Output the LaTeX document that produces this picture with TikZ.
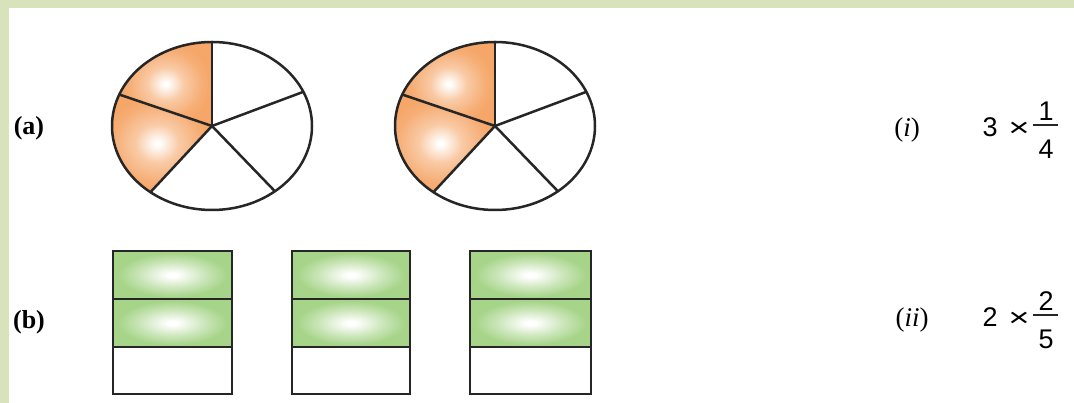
\documentclass[tikz,border=0pt]{standalone}
\usepackage{fontspec}
\usepackage{graphicx}
\setmainfont{Liberation Serif}
\setsansfont{Liberation Sans}
\definecolor{bandgreen}{RGB}{216,226,187}
\definecolor{pieorange}{RGB}{245,166,104}
\definecolor{cellgreen}{RGB}{166,212,136}
\definecolor{inkline}{RGB}{38,38,38}
\pgfdeclareradialshading{orangeglow}{\pgfpoint{0bp}{0bp}}{color(0bp)=(white); color(1bp)=(white); color(10bp)=(pieorange!60!white); color(20bp)=(pieorange!92!white); color(25bp)=(pieorange); color(50bp)=(pieorange)}
\pgfdeclareradialshading{greenglow}{\pgfpoint{0bp}{0bp}}{color(0bp)=(white); color(2bp)=(white); color(14bp)=(cellgreen!60!white); color(23bp)=(cellgreen); color(50bp)=(cellgreen)}
\begin{document}
\begin{tikzpicture}[x=1pt,y=1pt,
  pieline/.style={draw=inkline,line width=2.5pt},
  cellline/.style={draw=inkline,line width=1.8pt},
  partlab/.style={font=\fontsize{26}{28}\selectfont\bfseries,inner sep=0pt},
  optlab/.style={font=\fontsize{27}{29}\selectfont,inner sep=0pt},
  digit/.style={font=\sffamily\fontsize{27}{29}\selectfont,inner sep=0pt,anchor=base},
  timessign/.style={font=\sffamily\fontsize{27}{29}\selectfont,inner sep=0pt},
  fracbar/.style={draw=inkline,line width=1.4pt}]
\useasboundingbox (0,0) rectangle (1074,403);
\fill[white] (0,0) rectangle (1074,403);
\fill[bandgreen] (0,395) rectangle (1074,403);
\fill[bandgreen] (0,0) rectangle (9,403);
% pies
\foreach \cx/\nm in {212/pa,495/pb}{
  \coordinate (\nm) at (\cx,277);
  \shade[shading=orangeglow] (\nm) -- ++(90:100 and 84) arc[start angle=90,end angle=158,x radius=100,y radius=84] -- cycle;
  \shade[shading=orangeglow] (\nm) -- ++(158:100 and 84) arc[start angle=158,end angle=232,x radius=100,y radius=84] -- cycle;
  \foreach \a in {90,24,-51,-128,158}
    \draw[pieline,line cap=round] (\nm) -- ++(\a:100 and 84);
  \draw[pieline] (\nm) ellipse[x radius=100,y radius=84];
}
% bars
\foreach \lx/\rx in {113/232,292/410,470/591}{
  \shade[shading=greenglow] (\lx,104) rectangle (\rx,152);
  \shade[shading=greenglow] (\lx,56) rectangle (\rx,104);
  \draw[cellline] (\lx,9) rectangle (\rx,152);
  \draw[cellline] (\lx,56) -- (\rx,56);
  \draw[cellline] (\lx,104) -- (\rx,104);
}
\node[partlab] (la) at (29,275) {(a)};
\node[partlab] (lb) at (29,81) {(b)};
\node[optlab] (li) at (907,273) {(\textit{i})};
\node[optlab] (lii) at (912,83) {(\textit{ii})};
% expression (i)
\node[digit] (ia) at (990,266) {3};
\node[timessign] (ix) at (1019,274) {\scalebox{1.35}[0.95]{×}};
\node[digit] (inum) at (1046,282.5) {1};
\node[digit] (iden) at (1046,244.5) {4};
\draw[fracbar] (1033,278) -- (1058,278);
% expression (ii)
\node[digit] (iia) at (990,76) {2};
\node[timessign] (iix) at (1019,84) {\scalebox{1.35}[0.95]{×}};
\node[digit] (iinum) at (1046,92.5) {2};
\node[digit] (iiden) at (1046,54.5) {5};
\draw[fracbar] (1033,88) -- (1058,88);
\end{tikzpicture}
\end{document}
